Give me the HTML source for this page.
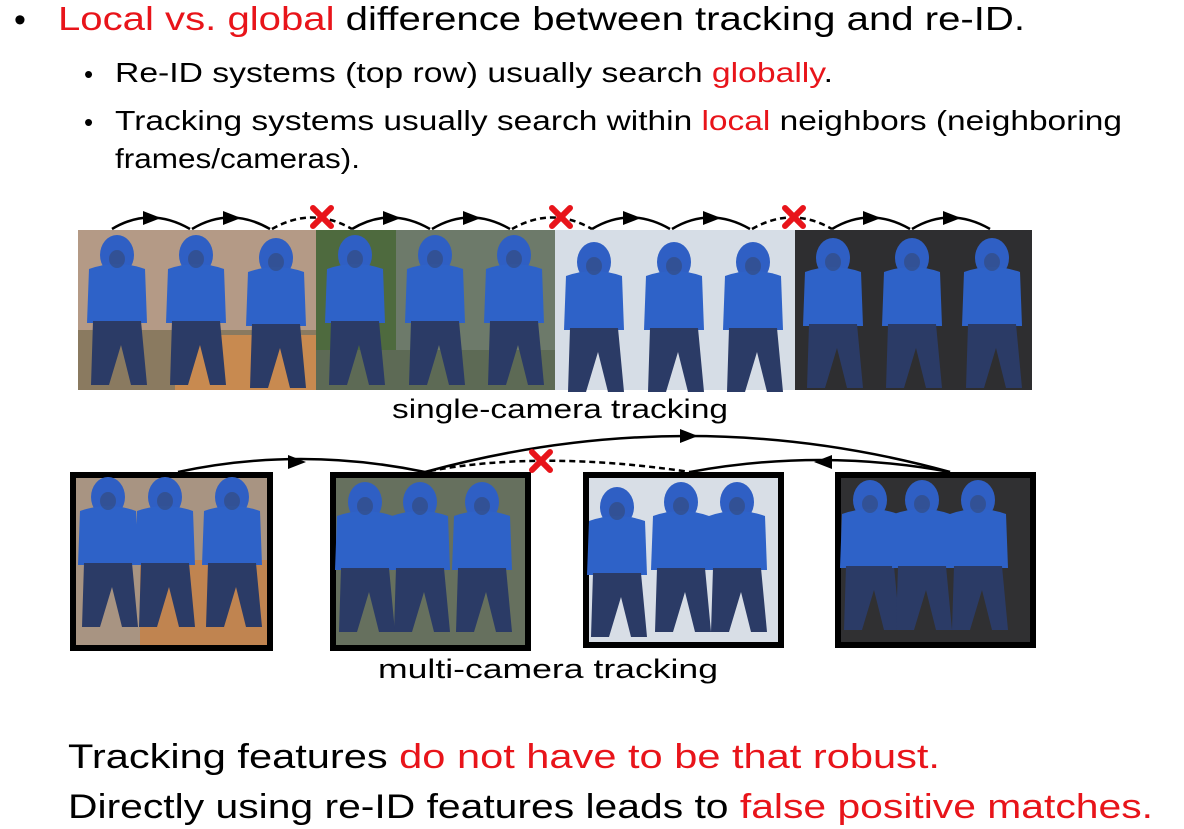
<!DOCTYPE html>
<html><head><meta charset="utf-8"><style>
html,body{margin:0;padding:0;background:#fff;}
body{width:1184px;height:829px;overflow:hidden;}
svg{display:block;}
</style></head><body>
<svg width="1184" height="829" viewBox="0 0 1184 829" xmlns="http://www.w3.org/2000/svg" font-family="Liberation Sans, Arial, sans-serif">
<defs>
<g id="p">
  <ellipse cx="0" cy="0" rx="17" ry="20" fill="#2f5fc4"/>
  <path d="M-28 14 Q0 4 28 14 L30 68 L-30 68 Z" fill="#2e62c8"/>
  <path d="M-24 66 L24 66 L30 130 L14 130 L4 90 L-8 130 L-26 130 Z" fill="#2b3b66"/>
  <ellipse cx="0" cy="4" rx="8" ry="9" fill="#3a3a40" opacity="0.35"/>
</g>
</defs>

<text x="14" y="31" font-size="34" fill="#000">•</text>
<text x="58" y="30" font-size="33" textLength="967" lengthAdjust="spacingAndGlyphs"><tspan fill="#e8141a">Local vs. global</tspan><tspan fill="#000"> difference between tracking and re-ID.</tspan></text>
<text x="84" y="83" font-size="26">•</text>
<text x="115" y="82" font-size="28" textLength="718" lengthAdjust="spacingAndGlyphs"><tspan>Re-ID systems (top row) usually search </tspan><tspan fill="#e8141a">globally</tspan><tspan>.</tspan></text>
<text x="84" y="131" font-size="26">•</text>
<text x="115" y="130" font-size="28" textLength="1007" lengthAdjust="spacingAndGlyphs"><tspan>Tracking systems usually search within </tspan><tspan fill="#e8141a">local</tspan><tspan> neighbors (neighboring</tspan></text>
<text x="115" y="168" font-size="28" textLength="245" lengthAdjust="spacingAndGlyphs">frames/cameras).</text>

<rect x="78" y="230" width="238" height="160" fill="#b49a86"/>
<rect x="78" y="330" width="238" height="60" fill="#8a7a60"/>
<rect x="175" y="335" width="141" height="55" fill="#c88a50"/>
<rect x="316" y="230" width="239" height="160" fill="#6d7a6a"/>
<rect x="316" y="230" width="80" height="160" fill="#4e6a3e"/>
<rect x="316" y="350" width="239" height="40" fill="#5d6a55"/>
<rect x="555" y="230" width="240" height="160" fill="#d6dde6"/>
<rect x="795" y="230" width="237" height="160" fill="#2e2e30"/>
<g>
<use href="#p" x="117" y="255"/><use href="#p" x="196" y="255"/><use href="#p" x="276" y="258"/>
<use href="#p" x="355" y="255"/><use href="#p" x="435" y="255"/><use href="#p" x="514" y="255"/>
<use href="#p" x="594" y="262"/><use href="#p" x="674" y="262"/><use href="#p" x="753" y="262"/>
<use href="#p" x="833" y="258"/><use href="#p" x="912" y="258"/><use href="#p" x="992" y="258"/>
</g>

<g fill="none" stroke="#000" stroke-width="2.5">
<path d="M112 229 Q150 206 190 229"/>
<path d="M192 229 Q230 206 270 229"/>
<path d="M352 229 Q390 206 430 229"/><path d="M432 229 Q470 206 510 229"/>
<path d="M592 229 Q630 206 670 229"/><path d="M672 229 Q710 206 750 229"/>
<path d="M832 229 Q870 206 910 229"/><path d="M912 229 Q950 206 990 229"/>
<path d="M272 229 Q312 206 352 229" stroke-dasharray="6,4"/>
<path d="M512 229 Q552 206 592 229" stroke-dasharray="6,4"/>
<path d="M752 229 Q792 206 832 229" stroke-dasharray="6,4"/>
</g>
<g fill="#000">
<path d="M143 211 L161 218 L143 225Z"/><path d="M223 211 L241 218 L223 225Z"/>
<path d="M383 211 L401 218 L383 225Z"/><path d="M463 211 L481 218 L463 225Z"/>
<path d="M623 211 L641 218 L623 225Z"/><path d="M703 211 L721 218 L703 225Z"/>
<path d="M863 211 L881 218 L863 225Z"/><path d="M943 211 L961 218 L943 225Z"/>
</g>
<g stroke="#e8141a" stroke-width="6" stroke-linecap="round">
<path d="M313 208 L331 226 M331 208 L313 226"/>
<path d="M552 208 L570 226 M570 208 L552 226"/>
<path d="M785 208 L803 226 M803 208 L785 226"/>
</g>

<text x="392" y="418" font-size="27" textLength="336" lengthAdjust="spacingAndGlyphs">single-camera tracking</text>

<rect x="73" y="475" width="197" height="173" fill="#a89482" stroke="#000" stroke-width="6"/>
<rect x="140" y="560" width="127" height="85" fill="#c08450"/>
<rect x="333" y="475" width="195" height="173" fill="#66705e" stroke="#000" stroke-width="6"/>
<rect x="586" y="475" width="195" height="170" fill="#d8dee6" stroke="#000" stroke-width="6"/>
<rect x="838" y="475" width="195" height="170" fill="#303032" stroke="#000" stroke-width="6"/>
<use href="#p" x="108" y="497"/>
<use href="#p" x="165" y="497"/><use href="#p" x="232" y="497"/>
<use href="#p" x="365" y="502"/><use href="#p" x="420" y="502"/><use href="#p" x="482" y="502"/>
<use href="#p" x="617" y="507"/><use href="#p" x="681" y="502"/><use href="#p" x="737" y="502"/>
<use href="#p" x="870" y="500"/><use href="#p" x="922" y="500"/><use href="#p" x="978" y="500"/>
<g fill="none" stroke="#000" stroke-width="2.5">
<path d="M178 472 Q300 446 425 472"/>
<path d="M425 472 Q688 400 950 472"/>
<path d="M950 472 Q820 448 690 472"/>
<path d="M430 471 Q541 450 690 472" stroke-dasharray="6,4"/>
</g>
<g fill="#000">
<path d="M288 455 L306 462 L288 469Z"/>
<path d="M680 429 L698 436 L680 443Z"/>
<path d="M832 455 L814 462 L832 469Z"/>
</g>
<path d="M532 452 L550 470 M550 452 L532 470" stroke="#e8141a" stroke-width="6" stroke-linecap="round"/>

<text x="378" y="678" font-size="27" textLength="340" lengthAdjust="spacingAndGlyphs">multi-camera tracking</text>

<text x="68" y="768" font-size="34" textLength="872" lengthAdjust="spacingAndGlyphs"><tspan>Tracking features </tspan><tspan fill="#e8141a">do not have to be that robust.</tspan></text>
<text x="68" y="818" font-size="34" textLength="1085" lengthAdjust="spacingAndGlyphs"><tspan>Directly using re-ID features leads to </tspan><tspan fill="#e8141a">false positive matches.</tspan></text>
</svg>
</body></html>
